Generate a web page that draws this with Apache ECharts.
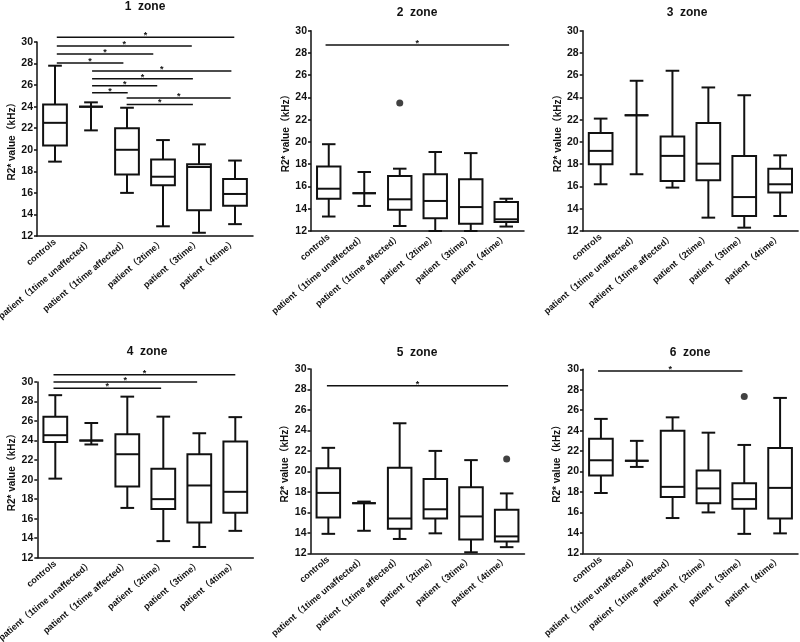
<!DOCTYPE html>
<html>
<head>
<meta charset="utf-8">
<script src="https://cdn.jsdelivr.net/npm/echarts@6/dist/echarts.min.js"></script>
<style>
  html, body { margin: 0; background: #fff; }
  #main { width: 800px; height: 642px; }
</style>
</head>
<body>
<div id="main"></div>
<script>
  const categories = ['controls', 'patient（1time unaffected）', 'patient（1time affected）',
    'patient（2time）', 'patient（3time）', 'patient（4time）'];
  const zoneNames = ['1  zone', '2  zone', '3  zone', '4  zone', '5  zone', '6  zone'];
  const yMin = 12, yMax = 30, yStep = 2;

  // [min, Q1, median, Q3, max] per group
  const zone1Box = [[18.9, 20.4, 22.5, 24.2, 27.8], [21.8, 24.0, 24.0, 24.0, 24.4], [16.0, 17.7, 20.0, 22.0, 23.9],
    [12.9, 16.7, 17.5, 19.1, 20.9], [12.3, 14.4, 18.4, 18.65, 20.5], [13.1, 14.8, 15.9, 17.3, 19.0]];
  const zone2Box = [[13.3, 14.9, 15.8, 17.8, 19.8], [14.25, 15.4, 15.4, 15.4, 17.3], [12.45, 13.9, 14.85, 16.95, 17.6],
    [12.0, 13.15, 14.7, 17.1, 19.1], [12.0, 12.65, 14.15, 16.65, 19.0], [12.4, 12.8, 13.05, 14.6, 14.9]];
  const zone3Box = [[16.2, 18.0, 19.2, 20.8, 22.1], [17.1, 22.4, 22.4, 22.4, 25.5], [15.9, 16.5, 18.75, 20.5, 26.4],
    [13.2, 16.55, 18.05, 21.7, 24.9], [12.3, 13.35, 15.05, 18.75, 24.2], [13.35, 15.45, 16.2, 17.6, 18.8]];
  const zone4Box = [[20.1, 23.85, 24.55, 26.45, 28.65], [23.6, 24.0, 24.0, 24.0, 25.8], [17.1, 19.3, 22.6, 24.65, 28.5],
    [13.7, 17.0, 18.0, 21.1, 26.45], [13.1, 15.6, 19.4, 22.6, 24.75], [14.75, 16.6, 18.75, 23.9, 26.4]];
  const zone5Box = [[13.9, 15.5, 17.9, 20.3, 22.3], [14.2, 16.9, 16.9, 16.9, 17.05], [13.4, 14.4, 15.4, 20.35, 24.7],
    [13.95, 15.4, 16.3, 19.25, 22.0], [12.1, 13.35, 15.6, 18.45, 21.1], [12.6, 13.15, 13.65, 16.25, 17.85]];
  const zone6Box = [[17.9, 19.6, 21.1, 23.2, 25.15], [20.45, 21.05, 21.05, 21.05, 23.0], [15.45, 17.5, 18.5, 24.0, 25.3],
    [16.0, 16.9, 18.35, 20.1, 23.8], [13.9, 16.35, 17.3, 18.85, 22.6], [13.95, 15.4, 18.4, 22.3, 27.2]];

  // outliers: [group, value]
  const zone1Out = [];
  const zone2Out = [[2, 23.5]];
  const zone3Out = [];
  const zone4Out = [];
  const zone5Out = [[5, 21.2]];
  const zone6Out = [[4, 27.35]];

  // significance bars: [from group, to group, height]
  const zone1Sig = [[0.05, 4.98, 30.43], [0.05, 3.8, 29.63], [0.05, 2.73, 28.89], [0.05, 1.9, 28.06],
    [1.03, 4.9, 27.31], [1.03, 3.83, 26.6], [1.03, 2.84, 25.93], [1.03, 2.02, 25.28],
    [1.99, 4.88, 24.81], [1.99, 3.83, 24.2]];
  const zone2Sig = [[-0.09, 5.08, 28.72]];
  const zone3Sig = [];
  const zone4Sig = [[-0.05, 5.0, 30.75], [-0.05, 3.94, 30.0], [-0.05, 2.94, 29.35]];
  const zone5Sig = [[-0.04, 5.04, 28.37]];
  const zone6Sig = [[-0.08, 3.95, 29.83]];

  const boxes = [zone1Box, zone2Box, zone3Box, zone4Box, zone5Box, zone6Box];
  const outliers = [zone1Out, zone2Out, zone3Out, zone4Out, zone5Out, zone6Out];
  const sigs = [zone1Sig, zone2Sig, zone3Sig, zone4Sig, zone5Sig, zone6Sig];

  const panels = [
    { left: 37, top: 42, width: 216, height: 194, tx: 145, ty: 1, gap: 18 },
    { left: 311, top: 30.7, width: 213, height: 200.3, tx: 417, ty: 7, gap: 12 },
    { left: 582.7, top: 30.7, width: 215.4, height: 200.3, tx: 687, ty: 7, gap: 18 },
    { left: 37.3, top: 382, width: 216, height: 175.7, tx: 147, ty: 346, gap: 18 },
    { left: 310.5, top: 369, width: 214, height: 184.3, tx: 417, ty: 347, gap: 20 },
    { left: 583, top: 369.3, width: 215, height: 184, tx: 690, ty: 347, gap: 21 }
  ];

  const FONT = '"Liberation Sans", Arial, "Noto Sans CJK SC", sans-serif';
  const INK = '#111';

  function renderBox(params, api) {
    const band = api.size([1, 0])[0];
    const bw = band * 0.66, cw = band * 0.38;
    const g = api.value(0);
    const p = k => api.coord([g, api.value(k)]);
    const lo = p(1), q1 = p(2), md = p(3), q3 = p(4), hi = p(5);
    const cx = lo[0];
    const st = { stroke: INK, lineWidth: 2, fill: 'none' };
    const ln = (x1, y1, x2, y2) => ({ type: 'line', shape: { x1, y1, x2, y2 }, style: st });
    return {
      type: 'group',
      children: [
        { type: 'rect', shape: { x: cx - bw / 2, y: q3[1], width: bw, height: q1[1] - q3[1] }, style: st },
        ln(cx - bw / 2, md[1], cx + bw / 2, md[1]),
        ln(cx, q3[1], cx, hi[1]),
        ln(cx, q1[1], cx, lo[1]),
        ln(cx - cw / 2, hi[1], cx + cw / 2, hi[1]),
        ln(cx - cw / 2, lo[1], cx + cw / 2, lo[1])
      ]
    };
  }

  function renderSig(params, api) {
    const band = api.size([1, 0])[0];
    const base = api.coord([0, api.value(1)]);
    const x1 = base[0] + api.value(2) * band;
    const x2 = base[0] + api.value(3) * band;
    const y = base[1];
    return {
      type: 'group',
      children: [
        { type: 'line', shape: { x1, y1: y, x2, y2: y }, style: { stroke: INK, lineWidth: 1.5 } },
        {
          type: 'text', x: (x1 + x2) / 2, y: y + 3,
          style: {
            text: '*', fill: INK, font: 'bold 9px ' + FONT,
            align: 'center', verticalAlign: 'bottom', textAlign: 'center', textVerticalAlign: 'bottom'
          }
        }
      ]
    };
  }

  const option = {
    animation: false,
    backgroundColor: '#fff',
    title: [], grid: [], xAxis: [], yAxis: [], series: []
  };

  panels.forEach((pn, i) => {
    option.title.push({
      text: zoneNames[i], left: pn.tx, top: pn.ty, textAlign: 'center', padding: 0,
      textStyle: { fontSize: 12, fontWeight: 'bold', color: INK, fontFamily: FONT }
    });
    option.grid.push({
      left: pn.left, top: pn.top, width: pn.width, height: pn.height,
      containLabel: false, outerBoundsMode: 'none'
    });
    option.xAxis.push({
      type: 'category', gridIndex: i, data: categories,
      axisLine: { lineStyle: { color: INK, width: 1.5 } },
      axisTick: { alignWithLabel: true, length: 4, lineStyle: { color: INK, width: 1.5 } },
      axisLabel: { interval: 0, rotate: 40, margin: 5, fontSize: 9, fontWeight: 'bold', color: INK, fontFamily: FONT },
      splitLine: { show: false }
    });
    option.yAxis.push({
      type: 'value', gridIndex: i, min: yMin, max: yMax, interval: yStep,
      name: 'R2* value（kHz）', nameLocation: 'middle', nameGap: pn.gap,
      nameTextStyle: { fontSize: 10, fontWeight: 'bold', color: INK, fontFamily: FONT },
      axisLine: { show: true, lineStyle: { color: INK, width: 1.5 } },
      axisTick: { show: true, length: 3, lineStyle: { color: INK, width: 1.5 } },
      axisLabel: { margin: 4, fontSize: 10.5, fontWeight: 'bold', color: INK, fontFamily: FONT },
      splitLine: { show: false }
    });
    option.series.push({
      type: 'custom', xAxisIndex: i, yAxisIndex: i,
      renderItem: renderBox,
      encode: { x: 0, y: [1, 2, 3, 4, 5] },
      data: boxes[i].map((b, k) => [k].concat(b))
    });
    option.series.push({
      type: 'scatter', xAxisIndex: i, yAxisIndex: i,
      symbolSize: 7, itemStyle: { color: INK },
      data: outliers[i]
    });
    option.series.push({
      type: 'custom', xAxisIndex: i, yAxisIndex: i, clip: false,
      renderItem: renderSig,
      encode: { x: 0, y: 1 },
      data: sigs[i].map(s => [0, s[2], s[0], s[1]])
    });
  });

  const chart = echarts.init(document.getElementById('main'));
  chart.setOption(option);
</script>
</body>
</html>
